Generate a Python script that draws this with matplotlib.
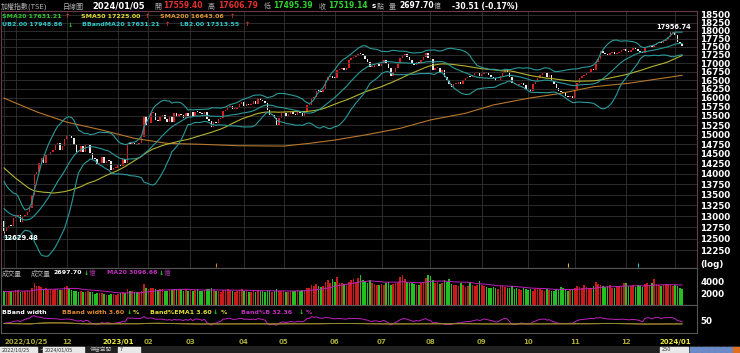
import numpy as np
import pandas as pd
import matplotlib.pyplot as plt
from matplotlib.ticker import NullLocator

plt.rcParams['font.family'] = ['DejaVu Sans', 'Noto Sans CJK TC']

# 49 closes before the first shown day (needed for SMA50 / BB20)
pre_close = [15300, 15420, 15390, 15410, 15408, 15219, 15095, 15040, 15150, 15278, 14950, 14960, 15095,
             14680, 14715, 14650, 14736, 14540, 14673, 14810, 15000, 14550, 14420, 14320, 14290, 14424,
             14300, 14190, 14120, 13780, 13800, 13640, 13470, 13424,
             13200, 13420, 13600, 13500, 13350, 13000, 12950, 12800, 13050, 12900, 13100, 13000, 12890,
             12800, 12900]

# daily closes, one list per month (2022/10/25 .. 2024/01/05)
close_by_month = [
    [12666, 12754, 12788, 12770, 12949],
    [13004, 13027, 12866, 12986, 13031, 13105, 13183, 13503, 14007, 14044, 14274, 14393, 14279, 14464,
     14466, 14540, 14608, 14734, 14778, 14608, 14697, 14879],
    [14980, 14970, 14907, 14735, 14556, 14546, 14705, 14538, 14720, 14734, 14528, 14367, 14364, 14246,
     14280, 14418, 14278, 14319, 14315, 14085, 14135, 14137],
    [14224, 14193, 14359, 14258, 14753, 14745, 14765, 14747, 14738, 14775, 14932, 15493, 15265],
    [15311, 15571, 15581, 15390, 15371, 15508, 15519, 15418, 15329, 15505, 15326, 15574, 15481, 15550,
     15526, 15450, 15589, 15503],
    [15608, 15500, 15609, 15606, 15588, 15541, 15616, 15424, 15350, 15190, 15331, 15320, 15414, 15449,
     15636, 15651, 15736, 15774, 15688, 15700, 15755, 15820, 15868],
    [15784, 15830, 15809, 15823, 15909, 15835, 16004, 15950, 15916, 15858, 15652, 15520, 15521, 15450,
     15262, 15437, 15579],
    [15589, 15500, 15554, 15613, 15552, 15511, 15600, 15582, 15502, 15610, 15794, 15800, 16000, 16010,
     16200, 16178, 16162, 16246, 16505, 16600, 16603, 16579],
    [16560, 16800, 16820, 16862, 16800, 16850, 17100, 17150, 17200, 17250, 17288, 17280, 17250, 17120,
     17050, 16890, 16900, 16985, 17000, 16915],
    [17000, 17100, 17000, 16850, 16620, 16750, 16850, 17000, 17150, 17250, 17280, 17200, 17100, 17000,
     16950, 17050, 17000, 17100, 17200, 17300, 17145],
    [17134, 16800, 16850, 16862, 16754, 16800, 16600, 16500, 16380, 16300, 16380, 16400, 16450, 16380,
     16500, 16550, 16600, 16580, 16650, 16700, 16720, 16634],
    [16670, 16750, 16700, 16650, 16600, 16550, 16480, 16520, 16630, 16720, 16800, 16750, 16600, 16430,
     16400, 16350, 16380, 16420, 16353, 16260],
    [16250, 16200, 16400, 16460, 16570, 16660, 16700, 16720, 16600, 16650, 16480, 16380, 16280, 16200,
     16150, 16130, 16050, 16020, 16040, 16001],
    [16225, 16420, 16550, 16620, 16650, 16700, 16750, 16820, 16800, 17040, 17120, 17356, 17300, 17280,
     17250, 17300, 17330, 17280, 17300, 17350, 17400, 17433],
    [17380, 17350, 17400, 17450, 17420, 17380, 17330, 17300, 17450, 17500, 17520, 17480, 17550, 17620,
     17650, 17600, 17680, 17730, 17800, 17910, 17930],
    [17853, 17649, 17594, 17519],
]

# turnover (億), same month layout
vol_by_month = [
    [2300, 2150, 2250, 2400, 2350],
    [2500, 2450, 2200, 2300, 2350, 2450, 2400, 2900, 3600, 3200, 3100, 3000, 2700, 2800, 2500, 2600,
     2550, 2750, 2600, 2500, 2450, 3000],
    [3100, 2700, 2500, 2400, 2300, 2200, 2350, 2100, 2250, 2300, 2200, 2100, 1900, 2000, 1950, 2050,
     1800, 1700, 1750, 1900, 1850, 1700],
    [1900, 2000, 2100, 2050, 2600, 2400, 2300, 2200, 2150, 2100, 2400, 3500, 2900],
    [2700, 2900, 2800, 2600, 2500, 2700, 2600, 2400, 2300, 2500, 2450, 2700, 2600, 2500, 2550, 2350,
     2600, 2400],
    [2500, 2400, 2450, 2600, 2300, 2400, 2500, 2700, 2600, 2900, 2500, 2400, 2300, 2200, 2500, 2450,
     2600, 2550, 2300, 2250, 2400, 2500, 2600],
    [2400, 2300, 2200, 2150, 2300, 2250, 2500, 2400, 2300, 2200, 2450, 2500, 2200, 2300, 2600, 2350, 2400],
    [2300, 2250, 2200, 2400, 2350, 2300, 2450, 2400, 2500, 2550, 2900, 2800, 3300, 3100, 3500, 3200,
     3000, 3100, 3900, 4200, 3700, 4400],
    [3800, 4600, 3600, 3700, 3500, 3400, 3900, 4100, 4300, 3800, 4500, 5000, 4200, 3900, 3700, 4100,
     3600, 3500, 3300, 3400],
    [3500, 3300, 3600, 3900, 3400, 3500, 3700, 3800, 4600, 5000, 4300, 3900, 3700, 3600, 3500, 3300,
     3400, 3600, 3900, 4500, 5000],
    [4800, 4200, 3600, 3800, 3500, 3600, 4100, 3900, 4300, 3500, 3300, 3400, 3100, 3600, 3300, 3000,
     3200, 3800, 3300, 3100, 3300, 4000],
    [3300, 3100, 3000, 2900, 2800, 3000, 2900, 2700, 3100, 3300, 3000, 2800, 2900, 3100, 2700, 2800,
     2600, 2500, 2900, 2600],
    [2500, 2600, 2400, 2700, 2900, 2600, 2500, 2400, 2600, 2500, 2400, 2300, 2600, 2500, 3000, 2800,
     2700, 2400, 2600, 2700],
    [2800, 3100, 3000, 2900, 3400, 3000, 2800, 2900, 3100, 3800, 3500, 3300, 3200, 3000, 3100, 3300,
     2900, 2800, 3000, 3200, 3100, 3600],
    [3600, 3200, 3100, 3300, 3000, 3400, 3100, 3000, 3500, 3700, 3300, 3600, 4400, 3500, 3400, 3200,
     3300, 3500, 3300, 3400, 3200],
    [3300, 3100, 2900, 2698],
]

month_labels = ['2022/10/25', '', '12', '2023/01', '02', '03', '04', '05', '06', '07', '08', '09',
                '10', '11', '12', '2024/01']

# SMA200 at a few days
sma200_idx = [0, 14, 27, 42, 56, 70, 85, 100, 120, 131, 142, 155, 170, 183, 198, 210, 225, 239, 253, 268, 291]
sma200_val = [15990, 15610, 15330, 15120, 14900, 14770, 14745, 14710, 14700, 14770, 14857, 14990, 15165,
              15390, 15570, 15800, 15986, 16125, 16313, 16411, 16643]

hi_val, hi_idx = 17956.74, 286
lo_val, lo_idx = 12629.48, 0
event_idx = [91, 242, 272]
event_col = ['#d08020', '#d0c040', '#30c0c0']

# ---- derived series ----
closes = np.concatenate([np.array(m, float) for m in close_by_month])
vols = np.concatenate([np.array(m, float) for m in vol_by_month])
n = len(closes)
x = np.arange(n)
month_start = np.cumsum([0] + [len(m) for m in close_by_month[:-1]])

s = pd.Series(np.concatenate([pre_close, closes]))
mid = s.rolling(20).mean()
sd = s.rolling(20).std(ddof=0)
ub = (mid + 2 * sd).values[len(pre_close):]
lb = (mid - 2 * sd).values[len(pre_close):]
mid = mid.values[len(pre_close):]
sma50 = s.rolling(50).mean().values[len(pre_close):]
opens = np.concatenate([[pre_close[-1]], closes[:-1]])
up = closes >= opens

vol_ma = pd.Series(vols).rolling(20, min_periods=1).mean().values
bandwidth = (ub - lb) / mid * 100
pctb = (closes - lb) / (ub - lb) * 100

# ---- figure ----
W, H = 740, 353
fig = plt.figure(figsize=(W / 100, H / 100), dpi=100, facecolor='black')


def pane(x0, y0, x1, y1, edge):
    a = fig.add_axes([x0 / W, 1 - y1 / H, (x1 - x0) / W, (y1 - y0) / H])
    a.set_facecolor('black')
    for sp in a.spines.values():
        sp.set_color(edge)
        sp.set_linewidth(0.8)
    return a


def ftext(px, py, txt, color, size=4.5, weight='bold', ha='left'):
    fig.text(px / W, 1 - py / H, txt, color=color, fontsize=size, fontweight=weight, ha=ha, va='center')


xmin, xmax = -1.3, 297.4
ax = pane(1, 11, 697, 268, '#6a3a4a')
axv = pane(1, 268, 697, 305, '#555555')
axb = pane(1, 305, 697, 333, '#555555')

# main price pane
ax.set_yscale('log')
ax.set_ylim(11870, 18630)
ax.set_xlim(xmin, xmax)
yt = np.arange(12250, 18501, 250)
ax.set_yticks(yt)
ax.set_yticklabels([str(v) for v in yt])
ax.yaxis.set_minor_locator(NullLocator())
ax.yaxis.tick_right()
ax.tick_params(axis='y', length=0, pad=2.5, labelsize=6.3, labelcolor='white')
for t in ax.get_yticklabels():
    t.set_fontweight('bold')
ax.set_xticks(month_start)
ax.tick_params(axis='x', length=0, labelbottom=False)
ax.grid(True, color='#333333', lw=0.6)

ax.plot(sma200_idx, sma200_val, color='#b8782a', lw=0.8)
ax.plot(x, sma50, color='#b4b432', lw=0.8)
for band in (ub, mid, lb):
    ax.plot(x, band, color='#2a9a9a', lw=0.8)

body_lo = np.minimum(opens, closes)
body_h = np.maximum(np.abs(closes - opens), closes * 0.0018)
ax.bar(x, body_h, bottom=body_lo, width=0.65, color=np.where(up, '#d42020', '#e8e8e8'), linewidth=0)
ax.vlines([hi_idx], closes[hi_idx], hi_val, color='#e8e8e8', lw=0.6)
ax.vlines([lo_idx], lo_val, body_lo[lo_idx], color='#e8e8e8', lw=0.6)
ax.text(hi_idx + 1.5, hi_val * 1.004, f'{hi_val:.2f}', color='white', fontsize=4.8, fontweight='bold',
        ha='center', va='bottom')
ax.text(lo_idx - 0.5, lo_val * 0.996, f'{lo_val:.2f}', color='white', fontsize=4.8, fontweight='bold',
        ha='left', va='top')
ax.vlines(event_idx, 11900, 11980, colors=event_col, lw=0.8)
ax.text(1.005, 0.015, '(log)', transform=ax.transAxes, color='white', fontsize=6.3, fontweight='bold',
        va='center')

# volume pane
axv.bar(x, vols, width=0.7, color=np.where(up, '#c81c1c', '#22c022'), linewidth=0)
axv.plot(x, vol_ma, color='#c020c0', lw=0.7)
axv.set_xlim(xmin, xmax)
axv.set_ylim(0, 6170)
axv.set_yticks([2000, 4000])
axv.yaxis.tick_right()
axv.tick_params(axis='y', length=0, pad=2.5, labelsize=6.3, labelcolor='white')
for t in axv.get_yticklabels():
    t.set_fontweight('bold')
axv.set_xticks([])

# band pane
axb.plot(x, pctb, color='#c020c0', lw=0.7)
axb.plot(x, bandwidth, color='#d08030', lw=0.7)
axb.plot(x, bandwidth, color='#8a8a30', lw=0.7)
axb.set_xlim(xmin, xmax)
axb.set_ylim(-142, 306)
axb.set_yticks([50])
axb.yaxis.tick_right()
axb.tick_params(axis='y', length=0, pad=2.5, labelsize=6.3, labelcolor='white')
for t in axb.get_yticklabels():
    t.set_fontweight('bold')
axb.set_xticks(month_start)
axb.set_xticklabels(month_labels)
axb.tick_params(axis='x', length=0, pad=4, labelsize=5)
for t, lab in zip(axb.get_xticklabels(), month_labels):
    t.set_fontweight('bold')
    t.set_color('#e8e840' if len(lab) == 7 else '#a8a838')
axb.get_xticklabels()[0].set_ha('left')

# header texts
gray = '#b0b0b0'
ftext(1, 6, '加權指數(TSE)', gray, 5, 'normal')
ftext(63, 6, '日線圖', gray, 5, 'normal')
ftext(92, 6, '2024/01/05', 'white', 6)
ftext(154, 6, '開', gray, 5, 'normal')
ftext(163, 6, '17559.40', '#e03030', 5.5)
ftext(208, 6, '高', gray, 5, 'normal')
ftext(218, 6, '17606.79', '#e03030', 5.5)
ftext(264, 6, '低', gray, 5, 'normal')
ftext(273, 6, '17495.39', '#30d030', 5.5)
ftext(319, 6, '收', gray, 5, 'normal')
ftext(328, 6, '17519.14', '#30d030', 5.5)
ftext(372, 6, 's', 'white', 5)
ftext(377, 6, '點', gray, 5, 'normal')
ftext(389, 6, '量', gray, 5, 'normal')
ftext(399, 6, '2697.70', 'white', 5.5)
ftext(434, 6, '億', gray, 5, 'normal')
ftext(452, 6, '-30.51 (-0.17%)', 'white', 5.5)

ftext(2, 16, 'SMA20 17631.21', '#30c830')
ftext(65, 16, '↑', '#e03030')
ftext(81, 16, 'SMA50 17225.00', '#e0e030')
ftext(145, 16, '↑', '#e03030')
ftext(160, 16, 'SMA200 16643.06', '#e09a30')
ftext(230, 16, '↑', '#e03030')
ftext(2, 25, 'UB2.00 17948.86', '#30c8c8')
ftext(68, 25, '↓', '#30d030')
ftext(82, 25, 'BBandMA20 17631.21', '#30c8c8')
ftext(165, 25, '↑', '#e03030')
ftext(180, 25, 'LB2.00 17313.55', '#30c8c8')
ftext(245, 25, '↑', '#e03030')

ftext(2, 273, '成交量', gray, 4.8, 'normal')
ftext(31, 273, '成交量', gray, 4.8, 'normal')
ftext(53, 273, '2697.70', 'white')
ftext(84, 273, '↓', '#30d030')
ftext(89, 273, '億', '#a030a0', 4.8, 'normal')
ftext(107, 273, 'MA20 3096.66', '#c030c0')
ftext(159, 273, '↓', '#30d030')
ftext(164, 273, '億', '#a030a0', 4.8, 'normal')

ftext(2, 312, 'BBand width', 'white')
ftext(62, 312, 'BBand width 3.60', '#e08a30')
ftext(127, 312, '↓', '#30d030')
ftext(133, 312, '%', '#e0e030')
ftext(150, 312, 'Band%EMA1 3.60', '#e0e030')
ftext(213, 312, '↓', '#30d030')
ftext(221, 312, '%', '#e0e030')
ftext(241, 312, 'Band%B 32.36', '#c030c0')
ftext(299, 312, '↓', '#30d030')
ftext(306, 312, '%', '#c030c0')

# bottom toolbar
bar_ax = fig.add_axes([0, 0, 1, 7 / H])
bar_ax.set_xlim(0, W)
bar_ax.set_ylim(0, 7)
bar_ax.axis('off')
bar_ax.add_patch(plt.Rectangle((0, 0), W, 7, color='#202020'))
for bx, bw, lab in [(0, 37, '2022/10/25'), (43, 41, '2024/01/05'), (118, 22, '7'), (660, 28, '250')]:
    bar_ax.add_patch(plt.Rectangle((bx, 0.5), bw, 6, color='#e8e8e8'))
    bar_ax.text(bx + 2, 3.5, lab, fontsize=3.5, color='#303030', va='center')
bar_ax.text(39, 3.5, '~', fontsize=4, color='white', va='center')
bar_ax.text(90, 3.5, '保留空間', fontsize=4, color='#c0c0c0', va='center')
for i in range(8):
    bar_ax.add_patch(plt.Rectangle((690 + i * 6.2, 0.8), 5.2, 5.4, color='#6a8ac8' if i < 7 else '#e07020'))

fig.savefig('out.png', dpi=100, facecolor='black')
